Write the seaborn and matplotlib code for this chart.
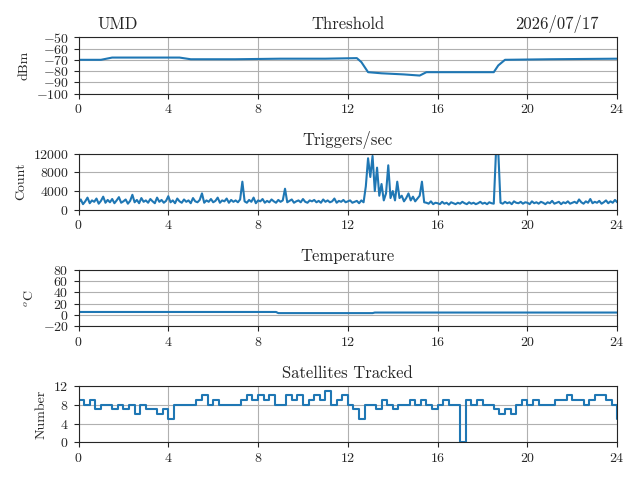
import numpy as np
import matplotlib
matplotlib.use("Agg")
import matplotlib.pyplot as plt
import seaborn as sns

sns.set_style("ticks")
plt.rcParams['font.family'] = ['serif']
plt.rcParams['font.serif'] = ['cmr10']
plt.rcParams['mathtext.fontset'] = 'cm'
plt.rcParams['axes.formatter.use_mathtext'] = True

# Threshold (dBm), hours
thr_t = [0, 1.0, 1.5, 3, 4.5, 5.0, 7, 9, 11, 12.4, 12.6, 12.9, 13.5, 14.5, 15.2, 15.5, 16.5, 18.5, 18.7, 19.0, 21, 24]
thr_v = [-70, -70, -68, -68, -68, -69.5, -69.5, -69, -69, -68.5, -72, -81, -82, -83, -84, -81, -81, -81, -75, -70, -69.5, -69]

# Triggers/sec, every 0.1 h
trig_v = [
    1500, 2200, 1200, 1800, 2600, 1400, 2000, 1700, 2400, 1300,
    1900, 2800, 1500, 2100, 1600, 2300, 1400, 2000, 2700, 1500,
    1800, 2200, 1300, 1900, 3200, 1600, 2100, 1400, 2500, 1700,
    2000, 1500, 2300, 1800, 1400, 2600, 1700, 2100, 1500, 1900,
    2900, 1600, 2000, 1400, 2400, 1800, 1500, 2200, 1700, 2000,
    1400, 2500, 1800, 1600, 2100, 3500, 1500, 2000, 1700, 2300,
    1600, 1900, 2600, 1500, 2000, 1800, 2400, 1500, 2100, 1700,
    2000, 1600, 2200, 6000, 1800, 1500, 2100, 1700, 2600, 1400,
    2000, 1800, 2300, 1500, 1900, 1600, 2200, 1800, 1500, 2100,
    1700, 2000, 4500, 1600, 1900, 2200, 1500, 1800, 2000, 1600,
    2300, 1700, 1500, 2000, 1800, 2100, 1600, 1900, 1500, 2200,
    1700, 2000, 1600, 1800, 2400, 1500, 1900, 1700, 2100, 1600,
    1800, 2000, 1500, 1700, 1900, 1400, 2000, 1600, 5000, 11000,
    7000, 11500, 4000, 9000, 3000, 5500, 2000, 3500, 9500, 2500,
    4000, 2000, 6000, 2500, 3000, 1800, 2500, 3500, 2000, 2800,
    1800, 2400, 3000, 6000, 1600, 1500, 1300, 1800, 1200, 1500,
    1400, 1200, 1700, 1300, 1500, 1100, 1600, 1400, 1200, 1500,
    1300, 1700, 1400, 1200, 1600, 1300, 1500, 1200, 1400, 1700,
    1300, 1500, 1200, 1600, 1400, 1300, 12500, 12500, 1500, 1300,
    1700, 1400, 1600, 1200, 1800, 1500, 1400, 1700, 1300, 1600,
    1500, 1200, 1800, 1400, 1600, 1300, 1700, 1500, 1200, 1600,
    1400, 1900, 1300, 1500, 1700, 1200, 1600, 1400, 1800, 1300,
    1500, 1700, 1400, 2200, 1600, 1300, 1800, 1500, 2300, 1400,
    1700, 1500, 1900, 1300, 1600, 2000, 1400, 1800, 1500, 2100,
    1600,
]
trig_t = np.arange(len(trig_v)) * 0.1

# Temperature (C)
temp_t = [0, 8.8, 8.9, 13.1, 13.2, 24]
temp_v = [5, 5, 3, 3, 4, 4]

# Satellites tracked, every 0.25 h
sat_v = [
    9, 8, 9, 7, 8, 8, 7, 8, 7, 8, 6, 8, 7, 7, 6, 7, 5, 8, 8, 8,
    8, 9, 10, 8, 9, 8, 8, 8, 8, 9, 10, 9, 10, 9, 10, 8, 8, 10, 9, 10,
    8, 9, 10, 9, 11, 8, 9, 10, 8, 7, 5, 8, 8, 7, 9, 8, 7, 8, 8, 9,
    8, 9, 8, 7, 8, 9, 8, 8, 0, 9, 8, 9, 8, 8, 7, 6, 7, 6, 8, 9,
    8, 9, 8, 8, 8, 9, 9, 10, 9, 9, 8, 9, 10, 10, 9, 8, 5,
]
sat_t = np.arange(len(sat_v)) * 0.25

color = sns.color_palette('tab10')[0]
fig, axes = plt.subplots(4, 1, figsize=(6.4, 4.8), dpi=100)

panels = [
    (thr_t, thr_v, 'Threshold', 'dBm', (-100, -50), np.arange(-100, -49, 10), 'line'),
    (trig_t, trig_v, 'Triggers/sec', 'Count', (0, 12000), [0, 4000, 8000, 12000], 'line'),
    (temp_t, temp_v, 'Temperature', r'$^o$C', (-20, 80), np.arange(-20, 81, 20), 'line'),
    (sat_t, sat_v, 'Satellites Tracked', 'Number', (0, 12), [0, 4, 8, 12], 'step'),
]
for ax, (t, v, title, ylab, ylim, yt, kind) in zip(axes, panels):
    if kind == 'step':
        ax.step(t, v, where='post', color=color, lw=1.5)
    else:
        sns.lineplot(x=t, y=v, ax=ax, color=color, lw=1.5)
    ax.set_title(title, fontsize=12)
    ax.set_ylabel(ylab)
    ax.set_xlim(0, 24)
    ax.set_ylim(*ylim)
    ax.set_yticks(yt)
    ax.set_xticks(np.arange(0, 25, 4))
    ax.grid(True, color='#b0b0b0', lw=0.8)
    ax.tick_params(direction='out')

axes[0].set_title('UMD', loc='left', fontsize=12, x=0.035)
axes[0].set_title('2026/07/17', loc='right', fontsize=12, x=0.965)

fig.tight_layout()
fig.savefig('out.png', dpi=100)
